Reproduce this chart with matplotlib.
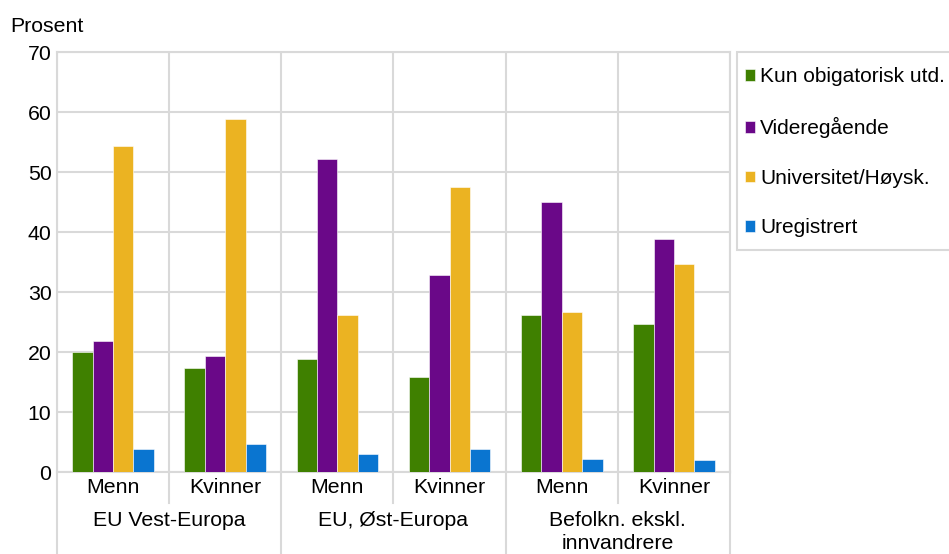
import numpy as np
import matplotlib.pyplot as plt
from matplotlib.lines import Line2D
from matplotlib.patches import Rectangle

plt.rcParams['font.family'] = ['Liberation Sans', 'DejaVu Sans']

groups = ['EU Vest-Europa', 'EU, Øst-Europa', 'Befolkn. ekskl.\ninnvandrere']
sexes = ['Menn', 'Kvinner']
series = ['Kun obigatorisk utd.', 'Videregående', 'Universitet/Høysk.', 'Uregistrert']

# order: Vest Menn, Vest Kvinner, Øst Menn, Øst Kvinner, Befolkn Menn, Befolkn Kvinner
kun_oblig = [20.0, 17.3, 18.8, 15.8, 26.2, 24.6]
videregaende = [21.9, 19.3, 52.1, 32.9, 45.0, 38.9]
universitet = [54.3, 58.8, 26.2, 47.5, 26.7, 34.6]
uregistrert = [3.8, 4.7, 3.0, 3.8, 2.2, 2.0]

values = [kun_oblig, videregaende, universitet, uregistrert]
colors = ['#3f8000', '#6a0888', '#ebb322', '#0a75d0']
grid_col = '#d9d9d9'
fs = 15.3
W, H = 949, 554

fig = plt.figure(figsize=(W / 100, H / 100), dpi=100)
ax = fig.add_axes([57/W, 82/H, 673/W, 420/H])

x = np.arange(6)
w = 0.182
for i, (vals, c, lab) in enumerate(zip(values, colors, series)):
    ax.bar(x + (i - 1.5) * w, vals, w, color=c, label=lab,
           edgecolor='white', linewidth=0.4, zorder=3)

ax.set_xlim(-0.5, 5.5)
ax.set_ylim(0, 70)
ax.set_yticks(range(0, 71, 10))
ax.tick_params(axis='y', length=0, labelsize=fs, pad=4)
ax.tick_params(axis='x', length=0, labelsize=fs, pad=4)
ax.set_xticks(x)
ax.set_xticklabels(sexes * 3)
ax.yaxis.grid(True, color=grid_col, linewidth=1.5, zorder=0)
for s in ax.spines.values():
    s.set_color(grid_col)
    s.set_linewidth(1.5)

# vertical separators, extending down into the label area
trans = ax.get_xaxis_transform()
for k, xs in enumerate(np.arange(-0.5, 6, 1.0)):
    ax.axvline(xs, color=grid_col, linewidth=1.5, zorder=1)
    ybot = -0.2 if k % 2 == 0 else -0.074
    ax.add_line(Line2D([xs, xs], [0, ybot], transform=trans, color=grid_col,
                       linewidth=1.5, clip_on=False))

for g, name in enumerate(groups):
    ax.text(2 * g + 0.5, -0.093, name, transform=trans, ha='center', va='top',
            fontsize=fs, linespacing=1.25)

fig.text(10/W, 1 - 26/H, 'Prosent', fontsize=fs, va='center', ha='left')

# legend frame (runs past the right edge, as in the source)
fig.patches.append(Rectangle((737/W, 1 - 250/H), 240/W, 198/H,
                             transform=fig.transFigure, facecolor='white',
                             edgecolor=grid_col, linewidth=1.5, zorder=-1))
handles, labels = ax.get_legend_handles_labels()
leg = fig.legend(handles, labels, loc='upper left',
                 bbox_to_anchor=(745/W, 1 - 67.5/H), fontsize=15, frameon=False,
                 handlelength=0.47, handleheight=0.47, handletextpad=0.25,
                 labelspacing=1.47, borderpad=0, borderaxespad=0)

fig.savefig('out.png', dpi=100)
